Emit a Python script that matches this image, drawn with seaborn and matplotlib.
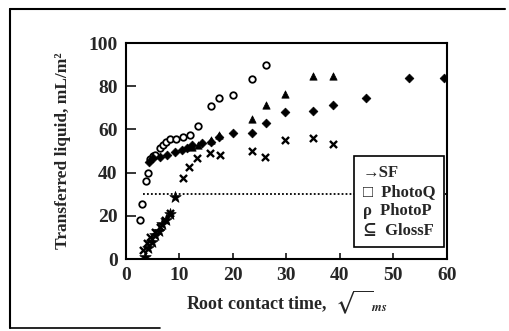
import numpy as np
import pandas as pd
import matplotlib
matplotlib.use("Agg")
import matplotlib.pyplot as plt
import seaborn as sns
from matplotlib.lines import Line2D

# ---- data ----
circ_x = [2.6, 3.0, 3.7, 4.1, 4.5, 5.0, 5.4, 6.4, 7.0, 7.5, 8.2, 9.3, 10.7, 12.0, 13.5, 15.9, 17.4, 20.0, 23.6, 26.2]
circ_y = [18, 25.5, 36, 40, 46.5, 47.5, 48, 51.5, 53, 54, 55.5, 55.5, 56.5, 57.4, 61.6, 70.8, 74.5, 75.9, 83.3, 89.8]

diam_x = [4.3, 5.0, 6.4, 7.7, 9.2, 10.5, 11.4, 12.3, 14.2, 15.9, 17.4, 20.0, 23.6, 26.2, 29.7, 35.0, 38.7, 44.9, 52.9, 59.4]
diam_y = [45, 46.7, 47.2, 48, 49.5, 50.5, 51.4, 52.8, 53.7, 54.2, 56.5, 58.3, 58.3, 63, 68, 68.5, 71.3, 74.5, 83.8, 83.8]

tri_x = [12.3, 13.5, 15.9, 17.4, 23.6, 26.2, 29.7, 35.0, 38.7]
tri_y = [52, 53, 55, 57.5, 64.8, 71.3, 76.4, 84.7, 84.7]

cross_x = [3.2, 3.9, 4.5, 5.4, 6.4, 7.3, 8.2, 10.7, 11.8, 13.3, 15.7, 17.6, 23.6, 26.0, 29.7, 35.0, 38.7]
cross_y = [4.2, 7.4, 10.2, 12.5, 14.8, 18, 21.3, 37.5, 42.6, 46.7, 49, 48, 50, 47.2, 55, 56, 53.2]

star_x = [3.5, 4.2, 4.8, 5.5, 6.2, 6.8, 7.5, 8.3, 9.2]
star_y = [1, 5, 8, 11, 13, 16, 18, 21, 28.7]

sf_line_x = [3.2, 60]
sf_line_y = [30, 30]

x_ticks = [0, 10, 20, 30, 40, 50, 60]
y_ticks = [0, 20, 40, 60, 80, 100]
legend_labels = ["\u2192SF", "\u25a1  PhotoQ", "\u03c1  PhotoP", "\u2286  GlossF"]

# ---- style ----
sns.set_style("ticks")
plt.rcParams["font.family"] = ["Liberation Serif", "DejaVu Serif"]
plt.rcParams["font.weight"] = "bold"
plt.rcParams["mathtext.fontset"] = "stix"

fig = plt.figure(figsize=(5.1, 3.31), dpi=100)
ax = fig.add_axes([0.247, 0.2175, 0.629, 0.6525])

ax.plot(sf_line_x, sf_line_y, linestyle=(0, (1, 1.2)), color="black", lw=1.3, zorder=1)

sns.scatterplot(x=circ_x, y=circ_y, ax=ax, marker="o", s=22, facecolor="white",
                edgecolor="black", linewidth=1.3, zorder=3)
sns.scatterplot(x=diam_x, y=diam_y, ax=ax, marker="D", s=20, color="black",
                edgecolor="black", linewidth=0.5, zorder=3)
sns.scatterplot(x=tri_x, y=tri_y, ax=ax, marker="^", s=28, color="black",
                edgecolor="black", linewidth=0.5, zorder=3)
sns.scatterplot(x=cross_x, y=cross_y, ax=ax, marker="x", s=26, color="black",
                linewidth=1.7, zorder=3)
sns.scatterplot(x=star_x, y=star_y, ax=ax, marker="*", s=75, color="black",
                edgecolor="black", linewidth=0.5, zorder=3)

ax.set_xlim(0, 60)
ax.set_ylim(0, 100)
ax.set_xticks(x_ticks)
ax.set_yticks(y_ticks)
ax.tick_params(direction="in", length=4, width=1.3, labelsize=14, pad=6)
ax.tick_params(axis="y", length=7)
for lab in ax.get_xticklabels() + ax.get_yticklabels():
    lab.set_fontweight("bold")
for sp in ax.spines.values():
    sp.set_visible(True)
    sp.set_linewidth(1.5)
    sp.set_color("black")

ax.set_xlabel("Root contact time,  $\\sqrt{\\ \\ \\ }_{\\mathit{ms}}$", fontsize=13,
              fontweight="bold", labelpad=3)
ax.set_ylabel("Transferred liquid, mL/m\u00b2", fontsize=12.5, fontweight="bold")
ax.yaxis.set_label_coords(-0.17, 0.5)

handles = [Line2D([], [], linestyle="none", marker="") for _ in legend_labels]
leg = ax.legend(handles, legend_labels, loc="lower right", bbox_to_anchor=(0.99, 0.055),
                borderaxespad=0,
                frameon=True, fancybox=False, handlelength=0, handletextpad=0,
                borderpad=0.5, labelspacing=0.2, prop={"weight": "bold", "size": 12})
leg.get_frame().set_edgecolor("black")
leg.get_frame().set_linewidth(1.2)
leg.get_frame().set_alpha(1)

# outer frame of the figure
fig.add_artist(Line2D([10/510, 505/510], [1-9/331, 1-9/331], transform=fig.transFigure, color="black", lw=1.5))
fig.add_artist(Line2D([10/510, 10/510], [1-9/331, 1-328/331], transform=fig.transFigure, color="black", lw=1.5))
fig.add_artist(Line2D([10/510, 160/510], [1-328/331, 1-328/331], transform=fig.transFigure, color="black", lw=1.2))

fig.savefig("out.png", dpi=100)
